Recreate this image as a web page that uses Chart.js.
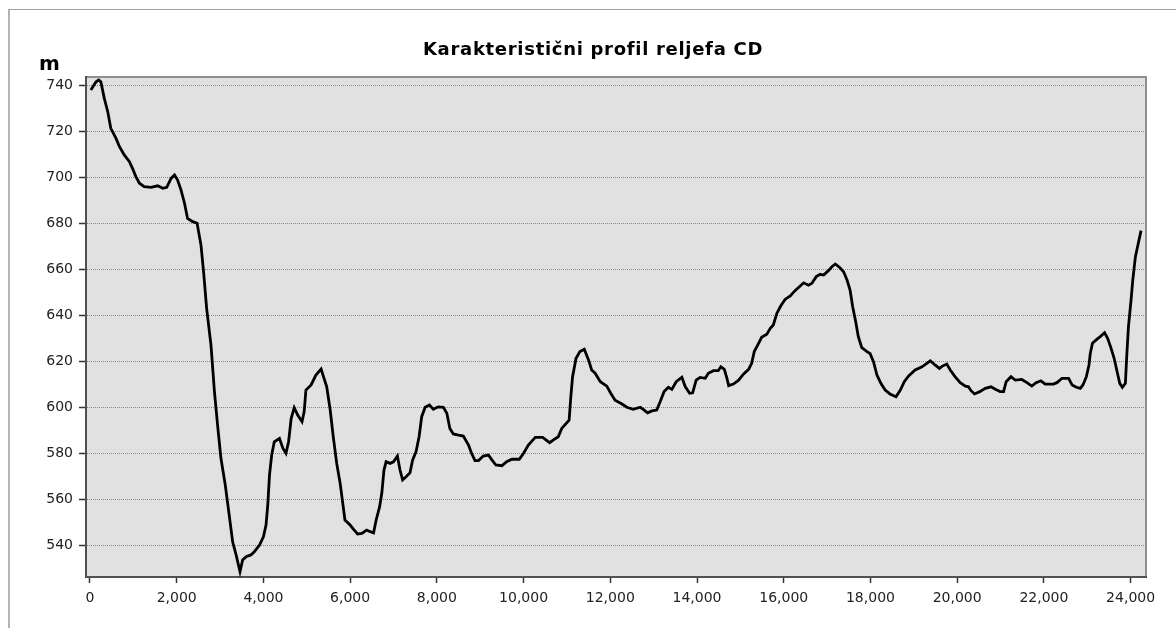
<!DOCTYPE html>
<html>
<head>
<meta charset="utf-8">
<script src="https://cdn.jsdelivr.net/npm/chart.js@4/dist/chart.umd.min.js"></script>
<style>
  html, body { margin: 0; padding: 0; background: #fff; }
  body { width: 1176px; height: 628px; position: relative; overflow: hidden; }
  #frame { position: absolute; left: 8px; top: 9px; right: 0; bottom: 0; border-top: 1px solid #a0a0a0; border-left: 2px solid #b4b4b4; }
  #chart { position: absolute; left: 0; top: 0; }
  #title { position: absolute; left: 343px; top: 39px; width: 500px; text-align: center;
           font: bold 18px "DejaVu Sans"; letter-spacing: 0.7px; line-height: 20px; color: #000; }
  #unit { position: absolute; left: 39px; top: 51px; font: bold 20px "DejaVu Sans"; line-height: 24px; color: #000; }
</style>
</head>
<body>
<div id="frame"></div>
<canvas id="chart" width="1176" height="628"></canvas>
<div id="title">Karakteristični profil reljefa CD</div>
<div id="unit">m</div>
<script>
// udaljenost (m) i nadmorska visina (m), očitano sa slike
const distance = [
  20, 140, 200, 250, 330, 410, 480, 600, 680, 790, 910, 980, 1060, 1140, 1250, 1410, 1560, 1680, 1770, 1870,
  1950, 2020, 2100, 2180, 2250, 2370, 2470, 2560, 2620, 2690, 2790, 2870, 2950, 3020, 3120, 3210, 3290, 3370,
  3460, 3520, 3600, 3710, 3790, 3910, 4000, 4060, 4100, 4140, 4190, 4250, 4370, 4450, 4520, 4580, 4640, 4710,
  4790, 4890, 4940, 4980, 5100, 5210, 5330,
  5460, 5540, 5610, 5690, 5770, 5830, 5880, 6000, 6080, 6170, 6270, 6380, 6460, 6540, 6600, 6680, 6730, 6780,
  6830, 6920, 7000, 7090, 7150, 7210, 7290, 7380, 7440, 7520, 7590, 7650, 7730, 7830, 7920, 8030, 8150, 8230,
  8300, 8380, 8500, 8610, 8730, 8800, 8880, 8960, 9070, 9190, 9270, 9360, 9500, 9610, 9730, 9900, 10000, 10110,
  10270, 10440, 10600, 10690, 10800, 10880, 11050, 11090, 11130, 11210, 11300, 11400, 11500, 11570,
  11650, 11770, 11920, 12010, 12110, 12270, 12380, 12530, 12690, 12760, 12860, 12960, 13070, 13150, 13240,
  13340, 13420, 13520, 13650, 13730, 13830, 13900, 13980, 14070, 14190, 14260, 14380, 14490, 14550, 14630,
  14690, 14730, 14840, 14960, 15070, 15190, 15260, 15320, 15420, 15490, 15610, 15690, 15760, 15840, 15930,
  16030, 16150, 16260, 16380, 16460, 16570, 16650, 16750, 16840, 16920, 17030, 17110, 17190, 17290, 17380,
  17460, 17530, 17590, 17660, 17720, 17800, 17920,
  17990, 18070, 18150, 18240, 18340, 18450, 18590, 18690, 18780, 18880, 19030, 19190, 19300, 19380, 19490,
  19590, 19660, 19760, 19840, 19950, 20070, 20190, 20260, 20320, 20400, 20520, 20650, 20780, 20880, 20990,
  21070, 21130, 21240, 21340, 21490, 21610, 21720, 21820, 21930, 22030, 22220, 22300, 22420, 22570, 22650,
  22750, 22840, 22900, 22980, 23040, 23070, 23120, 23220, 23300, 23400, 23470, 23550, 23620, 23680, 23750,
  23810, 23880, 23910, 23950, 24010, 24050, 24110, 24160, 24240
];
const elevation = [
  737.8, 741.4, 742.2, 741.4, 734.2, 728.4, 721.2, 716.8, 713.2, 709.6, 706.7, 703.8, 700.1, 697.3, 695.8, 695.5, 696.2, 695.1, 695.5, 699.4,
  700.9, 698.7, 694.3, 688.6, 682.0, 680.6, 679.9, 670.4, 658.8, 642.9, 627.0, 606.7, 590.7, 577.7, 566.1, 553.1, 541.4, 535.7,
  528.4, 533.5, 534.9, 535.7, 537.1, 540.0, 543.6, 548.7, 557.4, 570.4, 579.1, 584.9, 586.4, 582.0, 579.9, 584.9, 595.0, 599.7,
  596.5, 593.6, 598.0, 607.4, 609.6, 613.9, 616.5,
  608.8, 598.7, 587.1, 575.5, 566.8, 558.1, 550.9, 548.7, 546.8, 544.8, 545.1, 546.5, 545.8, 545.3, 550.9, 556.7, 562.5, 572.6,
  576.2, 575.5, 576.2, 578.7, 572.6, 568.3, 569.7, 571.4, 576.9, 580.6, 587.1, 595.8, 599.9, 600.9, 599.0, 600.1, 599.9, 597.3,
  590.7, 588.3, 587.8, 587.4, 583.5, 579.9, 576.7, 576.7, 578.7, 579.1, 577.0, 574.8, 574.5, 576.2, 577.3, 577.3, 579.9, 583.5,
  586.8, 586.8, 584.5, 585.7, 587.1, 590.7, 594.3, 604.5, 613.2, 621.2, 624.1, 625.1, 620.4, 616.1,
  614.7, 611.0, 609.1, 606.0, 603.0, 601.3, 599.9, 599.0, 599.9, 599.0, 597.5, 598.3, 598.7, 602.3, 606.7,
  608.6, 607.7, 611.0, 612.9, 608.8, 606.0, 606.2, 611.7, 612.9, 612.5, 614.7, 615.8, 615.8, 617.5, 616.4,
  612.5, 609.3, 610.0, 611.7, 614.3, 616.4, 619.0, 624.1, 627.7, 630.3, 631.7, 634.2, 635.7, 640.7, 643.9,
  646.8, 648.3, 650.6, 652.6, 654.0, 653.0, 653.8, 656.7, 657.7, 657.4, 659.3, 661.0, 662.2, 660.7, 658.8,
  655.2, 650.9, 643.6, 637.1, 630.6, 625.8, 624.1,
  623.3, 619.7, 613.9, 610.3, 607.4, 605.7, 604.5, 607.4, 611.0, 613.5, 616.1, 617.5, 619.0, 620.1, 618.3,
  616.8, 617.8, 618.7, 616.1, 613.2, 610.6, 609.1, 608.8, 607.1, 605.7, 606.7, 608.1, 608.8, 607.7, 606.7,
  606.7, 611.0, 613.2, 611.7, 612.0, 610.6, 609.1, 610.6, 611.4, 610.0, 610.0, 610.6, 612.5, 612.5, 609.6,
  608.6, 608.1, 609.6, 613.2, 618.3, 623.3, 627.7, 629.4, 630.6, 632.3, 629.9, 625.5, 621.2, 616.1, 610.3,
  608.6, 610.3, 621.9, 634.9, 646.5, 655.2, 665.3, 669.7, 676.7
];

// oznake na osima
const xTicks = [0, 2000, 4000, 6000, 8000, 10000, 12000, 14000, 16000, 18000, 20000, 22000, 24000];
const yTicks = [540, 560, 580, 600, 620, 640, 660, 680, 700, 720, 740];

// granice osi
const xMin = -92, xMax = 24355;
const yMin = 526.1, yMax = 743.5;

const points = distance.map((d, i) => ({ x: d, y: elevation[i] }));

// siva pozadina i gornji/desni rub područja crtanja
const plotFrame = {
  id: 'plotFrame',
  beforeDraw(chart) {
    const a = chart.chartArea;
    const ctx = chart.ctx;
    ctx.save();
    ctx.fillStyle = '#e1e1e1';
    ctx.fillRect(a.left, a.top, a.right - a.left, a.bottom - a.top);
    ctx.strokeStyle = '#8f8f8f';
    ctx.lineWidth = 2;
    ctx.beginPath();
    ctx.moveTo(a.left, a.top);
    ctx.lineTo(a.right, a.top);
    ctx.lineTo(a.right, a.bottom);
    ctx.stroke();
    ctx.restore();
  }
};

const ctx = document.getElementById('chart').getContext('2d');
new Chart(ctx, {
  type: 'line',
  data: {
    datasets: [{
      data: points,
      borderColor: '#000',
      borderWidth: 2.8,
      pointRadius: 0,
      tension: 0,
      fill: false
    }]
  },
  options: {
    responsive: false,
    animation: false,
    locale: 'en-US',
    layout: { padding: { top: 77, right: 30, left: 0, bottom: 0 } },
    plugins: {
      legend: { display: false },
      title: { display: false },
      tooltip: { enabled: false }
    },
    scales: {
      x: {
        type: 'linear',
        min: xMin,
        max: xMax,
        afterBuildTicks: s => { s.ticks = xTicks.map(v => ({ value: v })); },
        afterFit: s => { s.height = 51; },
        border: { color: '#505050', width: 2 },
        grid: { drawOnChartArea: false, tickLength: 6, tickColor: '#333', tickWidth: 1.5 },
        ticks: {
          padding: 7,
          color: '#222',
          font: { family: 'DejaVu Sans', size: 14 },
          maxRotation: 0,
          autoSkip: false,
          callback: v => v.toLocaleString('en-US')
        }
      },
      y: {
        min: yMin,
        max: yMax,
        afterBuildTicks: s => { s.ticks = yTicks.map(v => ({ value: v })); },
        afterFit: s => { s.width = 86; },
        border: { color: '#505050', width: 2, dash: [1, 1] },
        grid: {
          color: '#8a8a8a',
          tickLength: 7,
          tickColor: '#333',
          tickBorderDash: [],
          tickWidth: 1.5
        },
        ticks: {
          padding: 6,
          color: '#222',
          font: { family: 'DejaVu Sans', size: 14 }
        }
      }
    }
  },
  plugins: [plotFrame]
});
</script>
</body>
</html>
